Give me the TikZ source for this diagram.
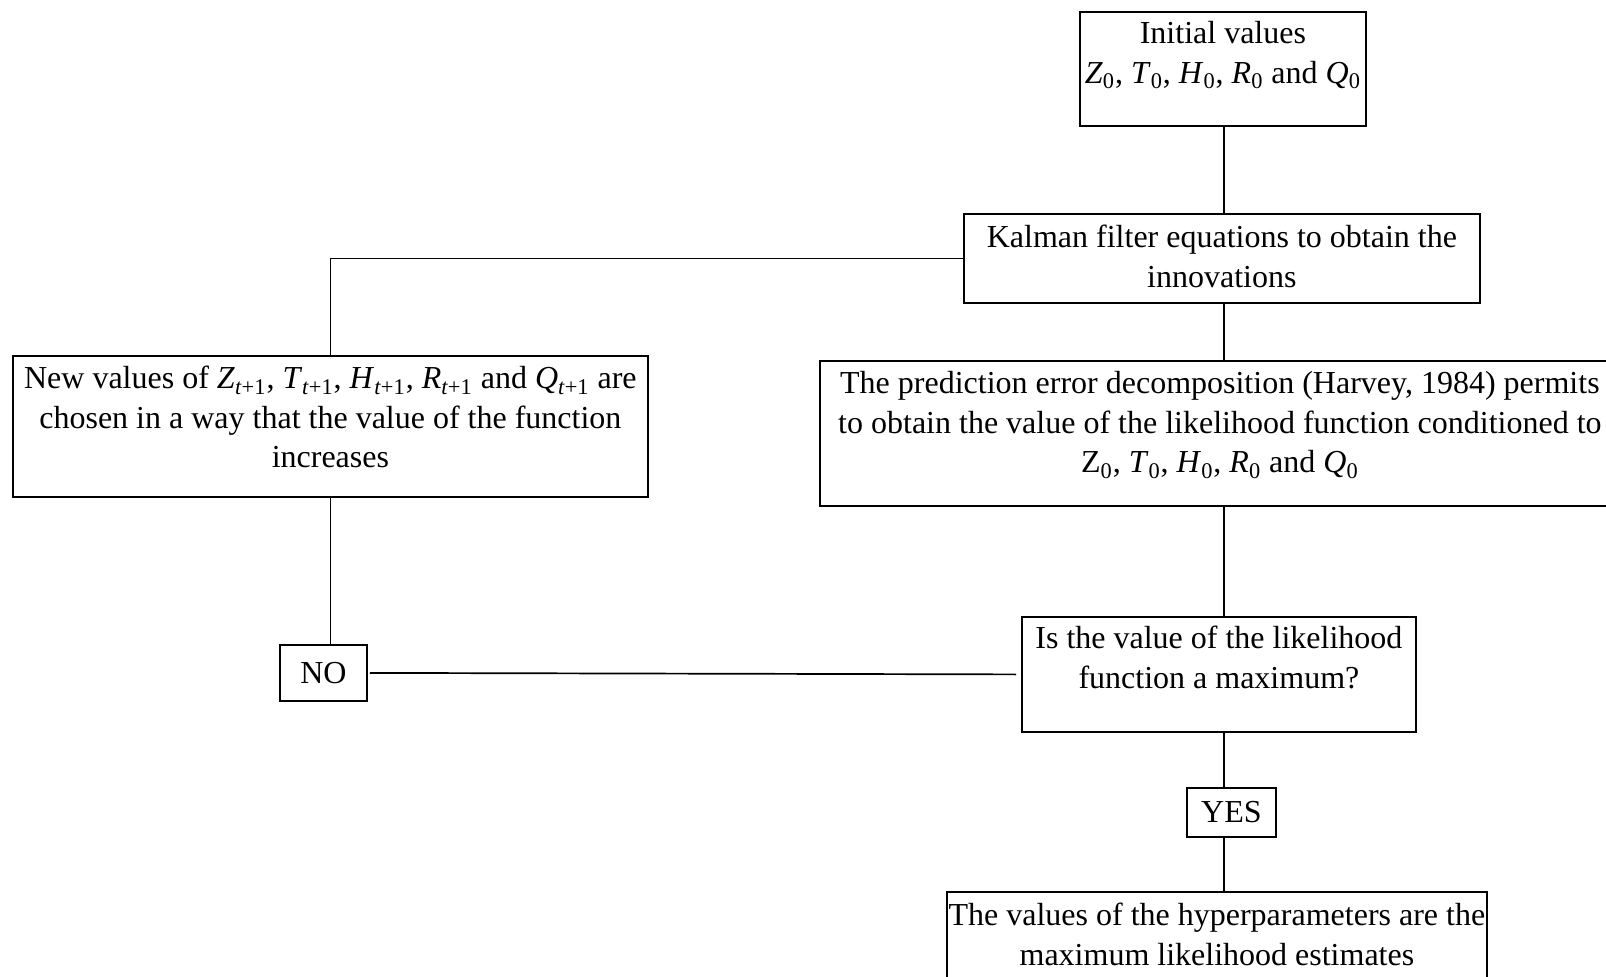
\documentclass[tikz,border=0pt]{standalone}
\usepackage{fontspec}
\setmainfont{Liberation Serif}
\usepackage{tikz}

\newcommand{\hsub}[2]{\textit{#1}\textsubscript{#2}}

\begin{document}
\begin{tikzpicture}[x=0.5pt, y=-0.5pt,
    box/.style={draw, line width=0.9pt, inner sep=0pt, align=center, anchor=north west,
        font=\fontsize{16}{19.75}\selectfont},
    link/.style={line width=0.85pt}]
                \useasboundingbox (0,0) rectangle (1606,976);
                \coordinate (spine) at (1224,0);
                \node[box, minimum width=143pt, text height=35.75pt, text depth=21.25pt] (init) at (1079,11)
                    {Initial values\\ \hsub{Z}{0}, \hsub{T}{0}, \hsub{H}{0}, \hsub{R}{0} and \hsub{Q}{0}};
                \node[box, minimum width=258pt, text height=36.75pt, text depth=7.75pt] (kalman) at (963,213)
                    {Kalman filter equations to obtain the\\ innovations};
                \node[box, minimum width=400pt, text height=56pt, text depth=16.5pt] (pred) at (819,360)
                    {The prediction error decomposition (Harvey, 1984) permits\\ to obtain the value of the likelihood function conditioned to\\ Z\textsubscript{0}, \hsub{T}{0}, \hsub{H}{0}, \hsub{R}{0} and \hsub{Q}{0}};
                \node[box, minimum width=317.5pt, text height=56pt, text depth=14.5pt] (new) at (12,355)
                    {New values of \hsub{Z}{\textit{t}+1}, \hsub{T}{\textit{t}+1}, \hsub{H}{\textit{t}+1}, \hsub{R}{\textit{t}+1} and \hsub{Q}{\textit{t}+1} are\\ chosen in a way that the value of the function\\ increases};
                \node[box, minimum width=197pt, text height=35.75pt, text depth=21.75pt] (ismax) at (1021,616)
                    {Is the value of the likelihood\\ function a maximum?};
                \node[box, minimum width=43.5pt, minimum height=28pt] (no) at (279,644) {NO};
                \node[box, minimum width=44.5pt, minimum height=24.5pt] (yes) at (1186,787) {YES};
                \node[box, minimum width=270pt, text height=36.75pt, text depth=27.75pt] (final) at (946,891)
                    {The values of the hyperparameters are the\\ maximum likelihood estimates};
                % main column
                \draw[link] (init.south -| spine) -- (kalman.north -| spine);
                \draw[link] (kalman.south -| spine) -- (pred.north -| spine);
                \draw[link] (pred.south -| spine) -- (ismax.north -| spine);
                \draw[link] (ismax.south -| spine) -- (yes.north -| spine);
                \draw[link] (yes.south -| spine) -- (final.north -| spine);
                % loop back
                \draw[link] (kalman.west) -| (new.north);
                \draw[link] (new.south) -- (new.south |- no.north);
                \draw[link, shorten <=2.5pt, shorten >=1pt] (ismax.west) -- (no.east);
            \end{tikzpicture}
\end{document}
